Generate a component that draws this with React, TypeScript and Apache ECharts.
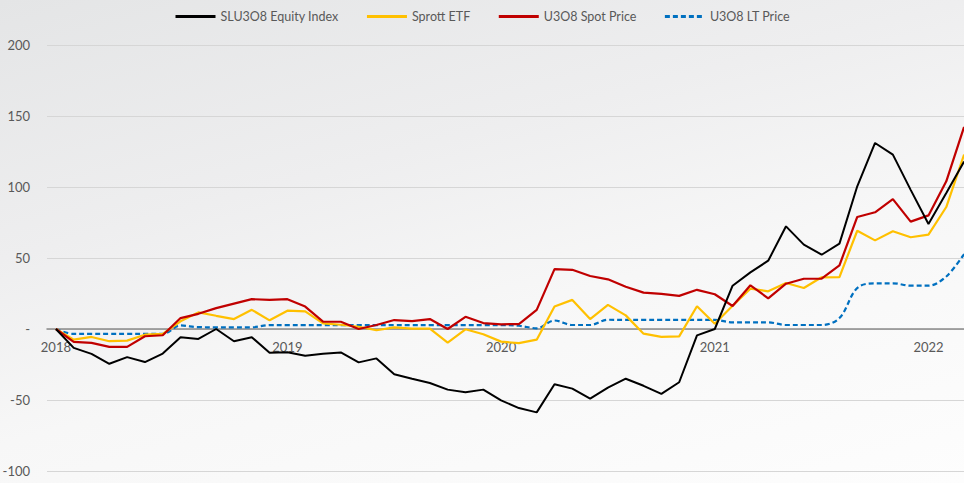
import React, { useEffect, useRef } from "react";
import * as echarts from "echarts";

const months: string[] = [];
{
  const names = ["Jan", "Feb", "Mar", "Apr", "May", "Jun", "Jul", "Aug", "Sep", "Oct", "Nov", "Dec"];
  // Dec 2017 .. Mar 2022 (52 monthly points)
  let y = 2017;
  let m = 11;
  for (let k = 0; k < 52; k++) {
    months.push(`${names[m]} ${y}`);
    m++;
    if (m === 12) { m = 0; y++; }
  }
}

const yearTicks: Record<number, string> = { 0: "2018", 13: "2019", 25: "2020", 37: "2021", 49: "2022" };

const equityIndex = [
  0, -13.3, -17.5, -24.5, -19.8, -23.3, -17.3, -5.8, -7, 0, -8.6, -5.8, -16.8,
  -16.3, -18.9, -17.5, -16.5, -23.5, -20.7, -31.9, -35, -38, -42.7, -44.5, -42.7,
  -50.3, -55.7, -58.7, -38.9, -42, -49, -41.3, -35, -40, -45.7, -37.5, -4.5, 0,
  30.5, 39.9, 48.1, 72.3, 59.4, 52.3, 60.1, 100.5, 131, 122.8, 98, 74, 95.8, 118,
];

const sprottEtf = [
  0, -7.5, -5.6, -8.6, -8.2, -4, -3.5, 5.4, 11.7, 9.3, 7, 13.5, 6.1,
  12.9, 12.4, 4, 3, 1.6, -0.9, 1.2, 0.2, 0.2, -9.6, -0.2, -3.7,
  -8.9, -10, -7.5, 15.9, 20.5, 7, 17, 9.6, -3.3, -5.6, -5.2, 16, 3.7,
  16.4, 28.4, 26.5, 32.4, 28.9, 36.4, 36.6, 69.2, 62.4, 68.8, 64.6, 66.4, 85.9, 122.8,
];

const spotPrice = [
  0, -9.1, -9.8, -12.6, -12.6, -5.1, -4.4, 7.7, 10.7, 14.7, 17.9, 21, 20.5,
  21, 15.8, 5.2, 5.1, 0, 2.8, 6.3, 5.6, 7, 0, 8.6, 4.2,
  3.3, 3.5, 13.5, 42.2, 41.7, 37.3, 35, 29.8, 25.6, 24.7, 23.3, 27.6, 24.5,
  16.2, 30.8, 21.6, 31.9, 35.4, 35.4, 44.8, 78.9, 82.2, 91.5, 75.6, 80, 104, 142.3,
];

const ltPrice = [
  0, -3.5, -3.5, -3.5, -3.5, -3.5, -3.5, 2.5, 1.3, 1.2, 1.2, 1.2, 2.8,
  2.7, 2.7, 2.7, 2.7, 2.7, 2.7, 2.7, 2.7, 2.7, 2.7, 2.7, 2.7,
  2.7, 2.3, 0.5, 6, 2.8, 2.8, 6.5, 6.4, 6.4, 6.4, 6.4, 6.4, 6.4,
  4.7, 4.7, 4.7, 2.8, 2.8, 2.8, 7.7, 28.9, 32.2, 32.2, 30.5, 30.5, 37, 52.8,
];

const FONT = "Lato, 'Liberation Sans', sans-serif";
const TEXT = "#595959";

// plot geometry: y from -100 (bottom) to 200 (top)
const GRID_TOP = 45;
const GRID_BOTTOM = 12;
const PLOT_H = 483 - GRID_TOP - GRID_BOTTOM;
const Y_MIN = -100;
const Y_MAX = 200;
const zeroOffset = -PLOT_H * (0 - Y_MIN) / (Y_MAX - Y_MIN);

export default function App() {
  const ref = useRef<HTMLDivElement>(null);
  useEffect(() => {
    if (!ref.current) return;
    const chart = echarts.init(ref.current, undefined, { renderer: "svg" });
    chart.setOption({
      animation: false,
      backgroundColor: "transparent",
      legend: {
        top: 5,
        left: "center",
        itemWidth: 40,
        itemHeight: 10,
        itemGap: 27,
        itemStyle: { opacity: 0 },
        lineStyle: { width: 3 },
        textStyle: { color: TEXT, fontFamily: FONT, fontSize: 12.5 },
        data: ["SLU3O8 Equity Index", "Sprott ETF", "U3O8 Spot Price", "U3O8 LT Price"],
      },
      grid: { left: 47, right: -9, top: GRID_TOP, bottom: GRID_BOTTOM, outerBoundsMode: "none", containLabel: false },
      xAxis: {
        type: "category",
        data: months,
        boundaryGap: true,
        offset: zeroOffset,
        axisTick: { show: false },
        axisLine: { onZero: false, lineStyle: { color: "#8a8a8a", width: 1.5 } },
        axisLabel: {
          interval: (idx: number) => yearTicks[idx] !== undefined,
          formatter: (_v: string, idx: number) => yearTicks[idx] ?? "",
          color: TEXT,
          fontFamily: FONT,
          fontSize: 13,
          margin: 11,
        },
        splitLine: { show: false },
      },
      yAxis: {
        type: "value",
        min: Y_MIN,
        max: Y_MAX,
        interval: 50,
        axisLine: { show: false },
        axisTick: { show: false },
        axisLabel: {
          color: TEXT,
          fontFamily: FONT,
          fontSize: 13,
          margin: 17,
          formatter: (v: number) => (v === 0 ? "-" : String(v)),
        },
        splitLine: { lineStyle: { color: "#d6d6d6", width: 1 } },
      },
      series: [
        {
          name: "SLU3O8 Equity Index",
          type: "line",
          data: equityIndex,
          symbol: "none",
          z: 5,
          lineStyle: { color: "#000000", width: 2 },
          itemStyle: { color: "#000000" },
        },
        {
          name: "Sprott ETF",
          type: "line",
          data: sprottEtf,
          symbol: "none",
          z: 3,
          lineStyle: { color: "#FFC000", width: 2.2 },
          itemStyle: { color: "#FFC000" },
        },
        {
          name: "U3O8 Spot Price",
          type: "line",
          data: spotPrice,
          symbol: "none",
          z: 4,
          lineStyle: { color: "#C00000", width: 2.2 },
          itemStyle: { color: "#C00000" },
        },
        {
          name: "U3O8 LT Price",
          type: "line",
          data: ltPrice,
          symbol: "none",
          smooth: 0.35,
          z: 2,
          lineStyle: { color: "#0070C0", width: 2.2, type: [5, 3] },
          itemStyle: { color: "#0070C0" },
        },
      ],
    });
    return () => chart.dispose();
  }, []);

  return (
    <div
      style={{
        position: "fixed",
        left: 0,
        top: 0,
        width: 964,
        height: 483,
        background:
          "linear-gradient(165deg, #e4e5e6 0%, #eeeeef 35%, #f7f7f7 60%, #fdfdfd 100%)",
      }}
    >
      <div ref={ref} style={{ width: 964, height: 483 }} />
    </div>
  );
}
